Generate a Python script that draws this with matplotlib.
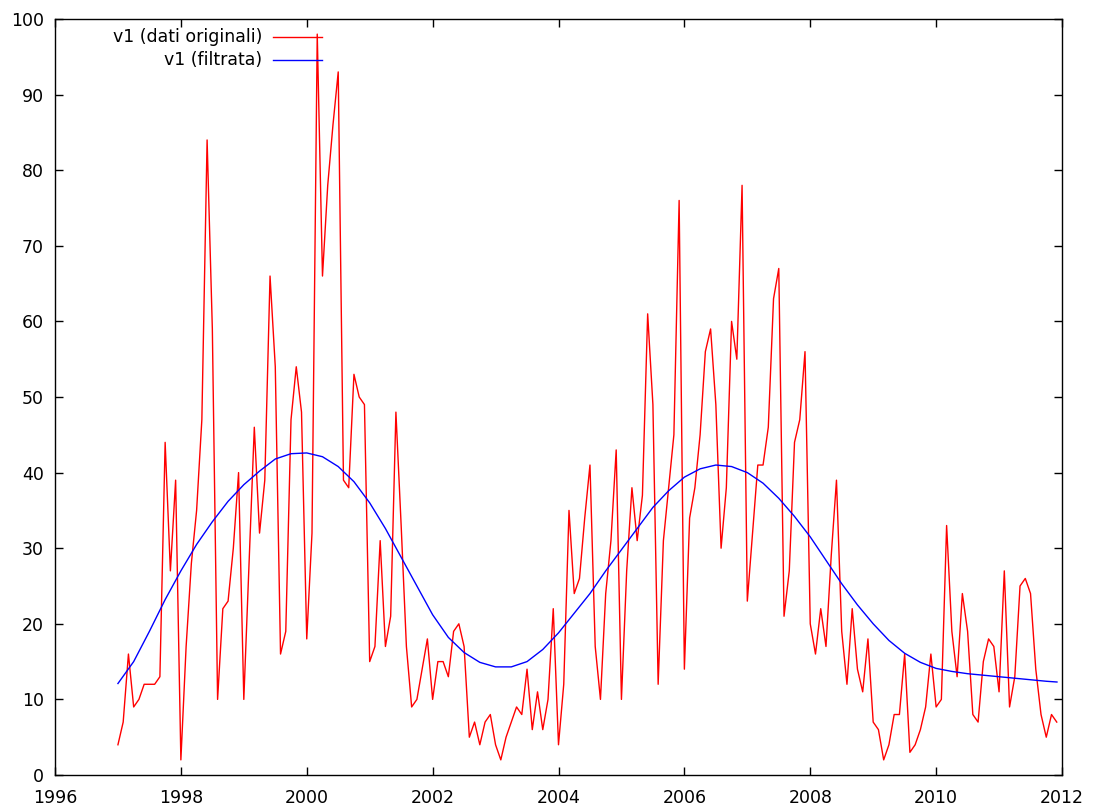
import numpy as np
import matplotlib
matplotlib.use('Agg')
import matplotlib.pyplot as plt
from matplotlib.lines import Line2D

# monthly values, Jan 1997 .. Dec 2011
v1_orig = [
    4, 7, 16, 9, 10, 12, 12, 12, 13, 44, 27, 39,        # 1997
    2, 17, 28, 35, 47, 84, 59, 10, 22, 23, 30, 40,      # 1998
    10, 28, 46, 32, 39, 66, 54, 16, 19, 47, 54, 48,     # 1999
    18, 32, 98, 66, 78, 86, 93, 39, 38, 53, 50, 49,     # 2000
    15, 17, 31, 17, 21, 48, 33, 17, 9, 10, 14, 18,      # 2001
    10, 15, 15, 13, 19, 20, 17, 5, 7, 4, 7, 8,          # 2002
    4, 2, 5, 7, 9, 8, 14, 6, 11, 6, 10, 22,             # 2003
    4, 12, 35, 24, 26, 34, 41, 17, 10, 24, 31, 43,      # 2004
    10, 27, 38, 31, 37, 61, 49, 12, 31, 38, 45, 76,     # 2005
    14, 34, 38, 45, 56, 59, 49, 30, 38, 60, 55, 78,     # 2006
    23, 32, 41, 41, 46, 63, 67, 21, 27, 44, 47, 56,     # 2007
    20, 16, 22, 17, 29, 39, 19, 12, 22, 14, 11, 18,     # 2008
    7, 6, 2, 4, 8, 8, 16, 3, 4, 6, 9, 16,               # 2009
    9, 10, 33, 19, 13, 24, 19, 8, 7, 15, 18, 17,        # 2010
    11, 27, 9, 13, 25, 26, 24, 14, 8, 5, 8, 7,          # 2011
]
t_orig = 1997 + np.arange(len(v1_orig)) / 12.0

# filtered series, read quarterly
t_filt = [
    1997.00, 1997.25, 1997.50, 1997.75, 1998.00, 1998.25, 1998.50, 1998.75,
    1999.00, 1999.25, 1999.50, 1999.75, 2000.00, 2000.25, 2000.50, 2000.75,
    2001.00, 2001.25, 2001.50, 2001.75, 2002.00, 2002.25, 2002.50, 2002.75,
    2003.00, 2003.25, 2003.50, 2003.75, 2004.00, 2004.25, 2004.50, 2004.75,
    2005.00, 2005.25, 2005.50, 2005.75, 2006.00, 2006.25, 2006.50, 2006.75,
    2007.00, 2007.25, 2007.50, 2007.75, 2008.00, 2008.25, 2008.50, 2008.75,
    2009.00, 2009.25, 2009.50, 2009.75, 2010.00, 2010.25, 2010.50, 2010.75,
    2011.00, 2011.25, 2011.50, 2011.75, 2011.92,
]
v1_filt = [
    12.1, 15.0, 19.0, 23.2, 27.0, 30.5, 33.5, 36.2,
    38.4, 40.2, 41.8, 42.5, 42.6, 42.1, 40.8, 38.8,
    36.0, 32.6, 28.8, 25.0, 21.2, 18.2, 16.2, 14.9,
    14.3, 14.3, 15.0, 16.6, 18.8, 21.4, 24.0, 27.0,
    29.8, 32.6, 35.4, 37.6, 39.4, 40.5, 41.0, 40.8,
    40.0, 38.6, 36.6, 34.2, 31.5, 28.4, 25.3, 22.5,
    20.0, 17.8, 16.1, 14.9, 14.1, 13.7, 13.4, 13.2,
    13.0, 12.8, 12.6, 12.4, 12.3,
]

labels = ['v1 (dati originali)', 'v1 (filtrata)']
colors = ['#ff0000', '#0000ff']

fig = plt.figure(figsize=(10.93, 8.07), dpi=100)
ax = fig.add_axes([55 / 1093, 32 / 807, 1007 / 1093, 756 / 807])

ax.plot(t_orig, v1_orig, color=colors[0], lw=1.0)
ax.plot(t_filt, v1_filt, color=colors[1], lw=1.0)

ax.set_xlim(1996, 2012)
ax.set_ylim(0, 100)
ax.set_xticks(np.arange(1996, 2013, 2))
ax.set_yticks(np.arange(0, 101, 10))
ax.tick_params(direction='in', length=6, width=1, top=True, right=True,
               labelsize=12.5, colors='black')
ax.tick_params(axis='x', pad=10)
ax.tick_params(axis='y', pad=8)
for s in ax.spines.values():
    s.set_linewidth(1)

# gnuplot style key: right-aligned text, sample line on the right
key_y = [37, 60]
for lab, col, yy in zip(labels, colors, key_y):
    ya = (775 - yy) / 756
    ax.text((262 - 55) / 1007, ya, lab, transform=ax.transAxes,
            ha='right', va='center', fontsize=12.5)
    ax.add_line(Line2D([(273 - 55) / 1007, (322 - 55) / 1007], [ya, ya],
                       transform=ax.transAxes, color=col, lw=1.0))

fig.savefig('out.png', dpi=100)
